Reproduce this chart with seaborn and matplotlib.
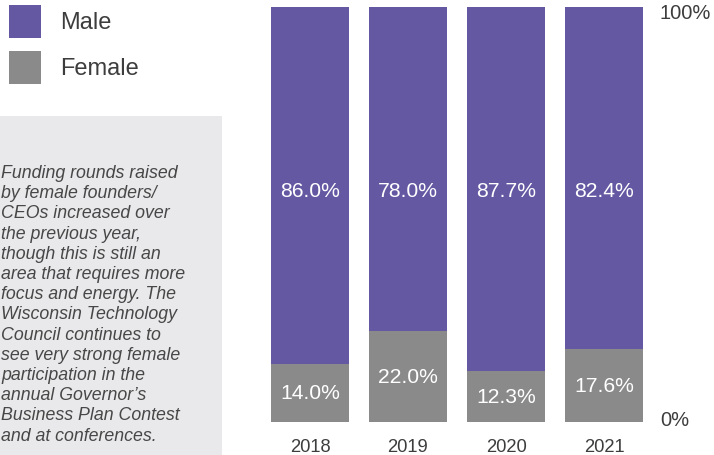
import matplotlib
matplotlib.use("Agg")
import matplotlib.pyplot as plt
from matplotlib.patches import Rectangle
import seaborn as sns
import pandas as pd

years = ["2018", "2019", "2020", "2021"]
male = [86.0, 78.0, 87.7, 82.4]
female = [14.0, 22.0, 12.3, 17.6]
legend_labels = ["Male", "Female"]
note_lines = [
    "Funding rounds raised",
    "by female founders/",
    "CEOs increased over",
    "the previous year,",
    "though this is still an",
    "area that requires more",
    "focus and energy. The",
    "Wisconsin Technology",
    "Council continues to",
    "see very strong female",
    "participation in the",
    "annual Governor\u2019s",
    "Business Plan Contest",
    "and at conferences.",
]

PURPLE = "#6558a3"
GREY = "#8a8a8a"
PANEL = "#e9e9eb"
TEXT = "#3d3d3d"

sns.set_theme(style="white")
plt.rcParams["font.family"] = ["Liberation Sans", "DejaVu Sans"]

W, H = 714, 456
fig = plt.figure(figsize=(W / 100, H / 100), dpi=100)
fig.patch.set_facecolor("white")

def fx(px):
    return px / W

def fy(py):
    return 1 - py / H

# side panel with the commentary
fig.add_artist(Rectangle((0, 0), fx(222), fy(117), transform=fig.transFigure,
                         facecolor=PANEL, edgecolor="none", zorder=0))
for i, line in enumerate(note_lines):
    fig.text(fx(1), fy(173.5 + i * 20.2), line, ha="left", va="center",
             fontsize=12.8, style="italic", color="#474747")

# legend swatches
for (label, col, top) in zip(legend_labels, [PURPLE, GREY], [6, 52]):
    fig.add_artist(Rectangle((fx(9), fy(top + 33)), fx(32), 33 / H,
                             transform=fig.transFigure, facecolor=col,
                             edgecolor="none"))
    fig.text(fx(60), fy(top + 17), label, ha="left", va="center",
             fontsize=17, color=TEXT)

# stacked bars
df = pd.DataFrame({"year": years, "male": male, "female": female})
df["total"] = df["male"] + df["female"]

ax = fig.add_axes([fx(261), 1 - 423 / H, fx(653) - fx(261), 415.5 / H])
sns.barplot(data=df, x="year", y="total", color=PURPLE, saturation=1,
            width=0.8, linewidth=0, ax=ax)
sns.barplot(data=df, x="year", y="female", color=GREY, saturation=1,
            width=0.8, linewidth=0, ax=ax)
ax.set_xlim(-0.5, 3.5)
ax.set_ylim(0, 100)
ax.axis("off")

for i, (m, f) in enumerate(zip(male, female)):
    ax.text(i, 55.8, f"{m:.1f}%", ha="center", va="center",
            fontsize=15.2, color="white")
    ax.text(i, f / 2, f"{f:.1f}%", ha="center", va="center",
            fontsize=15.2, color="white")
    ax.text(i, -5.8, years[i], ha="center", va="center",
            fontsize=13.2, color=TEXT, clip_on=False)

ax.text(3.57, 98.5, "100%", ha="left", va="center", fontsize=14.5,
        color=TEXT, clip_on=False)
ax.text(3.57, 0.6, "0%", ha="left", va="center", fontsize=14.5,
        color=TEXT, clip_on=False)

fig.savefig("out.png", dpi=100)
